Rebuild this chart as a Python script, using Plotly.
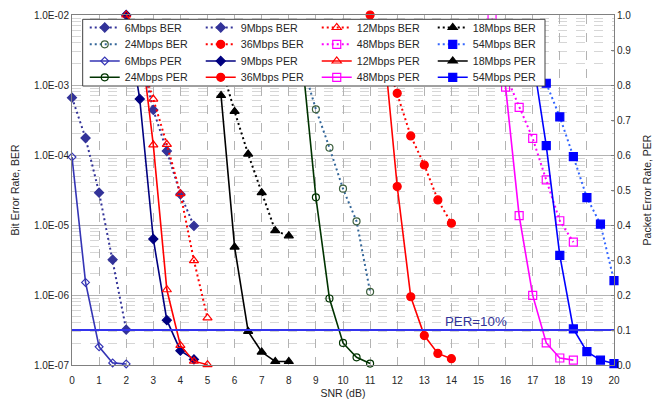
import plotly.graph_objects as go

# ---------------- data ----------------
snr6 = [0, 0.5, 1, 1.5, 2]
ber6 = [6.6e-4, 1.75e-4, 2.9e-5, 3.2e-6, 3.2e-7]
per6 = [0.594, 0.236, 0.052, 0.006, 0.003]

snr9_ber = [2.5, 3, 3.5, 4, 4.5]
ber9 = [3.0e-3, 4.4e-4, 1.14e-4, 2.75e-5, 9.7e-6]
snr9_per = [2, 2.5, 3, 3.5, 4, 4.5]
per9 = [1.0, 0.76, 0.36, 0.128, 0.041, 0.016]

snr12_ber = [2.5, 3, 3.5, 4, 4.5, 5]
ber12 = [2.5e-3, 6.3e-4, 1.42e-4, 2.8e-5, 3.1e-6, 4.7e-7]
snr12_per = [2, 2.5, 3, 3.5, 4, 4.5, 5]
per12 = [1.0, 0.95, 0.629, 0.215, 0.056, 0.011, 0.001]

snr18 = [5.5, 6, 6.5, 7, 7.5, 8]
ber18 = [1.9e-3, 4.2e-4, 1.03e-4, 2.9e-5, 8.3e-6, 7.0e-6]
per18 = [0.77, 0.337, 0.096, 0.037, 0.01, 0.01]

snr24 = [8.5, 9, 9.5, 10, 10.5, 11]
ber24 = [2.0e-3, 4.5e-4, 1.27e-4, 3.3e-5, 1.13e-5, 1.11e-6]
per24 = [0.87, 0.479, 0.19, 0.063, 0.022, 0.004]

snr36_ber = [11.5, 12, 12.5, 13, 13.5, 14]
ber36 = [3.0e-3, 7.6e-4, 1.87e-4, 7.2e-5, 2.28e-5, 1.06e-5]
snr36_per = [11, 11.5, 12, 12.5, 13, 13.5, 14]
per36 = [1.0, 0.92, 0.51, 0.195, 0.084, 0.033, 0.018]

snr48_ber = [16, 16.5, 17, 17.5, 18, 18.5]
ber48 = [1.4e-3, 4.8e-4, 1.73e-4, 4.4e-5, 1.15e-5, 5.7e-6]
snr48_per = [15.5, 16, 16.5, 17, 17.5, 18, 18.5]
per48 = [0.99, 0.794, 0.427, 0.199, 0.063, 0.02, 0.014]

snr54_ber = [17.5, 18, 18.5, 19, 19.5, 20]
ber54 = [1.06e-3, 3.5e-4, 9.5e-5, 2.46e-5, 1.03e-5, 1.6e-6]
snr54_per = [17, 17.5, 18, 18.5, 19, 19.5, 20]
per54 = [0.88, 0.627, 0.313, 0.103, 0.038, 0.014, 0.004]

per_limit = 0.1
snr_range = [0, 20]

ber_tickvals = [1e-7, 1e-6, 1e-5, 1e-4, 1e-3, 1e-2]
ber_ticktext = ["1.0E-07", "1.0E-06", "1.0E-05", "1.0E-04", "1.0E-03", "1.0E-02"]

# ---------------- figure ----------------
FONT = "Arial, Liberation Sans, sans-serif"
TXT = "#262626"
fig = go.Figure()

def ber_trace(name, x, y, color, symbol, legend, mcolor=None, size=8):
    mcolor = mcolor or color
    fig.add_trace(go.Scatter(
        x=x, y=y, name=name, mode="lines+markers", yaxis="y", legend=legend,
        line=dict(color=color, width=2, dash="2px,3px"),
        marker=dict(symbol=symbol, size=size, color=mcolor,
                    line=dict(color=mcolor, width=1.2)),
        cliponaxis=False))

def per_trace(name, x, y, color, symbol, legend, size=8, mcolor=None):
    mcolor = mcolor or color
    fig.add_trace(go.Scatter(
        x=x, y=y, name=name, mode="lines+markers", yaxis="y2", legend=legend,
        line=dict(color=color, width=1.6),
        marker=dict(symbol=symbol, size=size, color=mcolor,
                    line=dict(color=mcolor, width=1.2)),
        cliponaxis=False))

NAVY = "#333399"
ber_trace("6Mbps BER", snr6, ber6, NAVY, "diamond", "legend", size=7)
ber_trace("9Mbps BER", snr9_ber, ber9, NAVY, "diamond", "legend", size=7)
ber_trace("12Mbps BER", snr12_ber, ber12, "#FF0000", "triangle-up-open", "legend", size=8)
ber_trace("18Mbps BER", snr18, ber18, "#000000", "triangle-up", "legend", size=8)

ber_trace("24Mbps BER", snr24, ber24, "#336699", "circle-open", "legend2", mcolor="#3C5F3C", size=7)
ber_trace("36Mbps BER", snr36_ber, ber36, "#FF0000", "circle", "legend2", size=8)
ber_trace("48Mbps BER", snr48_ber, ber48, "#FF00FF", "square-open", "legend2", size=8)
ber_trace("54Mbps BER", snr54_ber, ber54, "#3366FF", "square", "legend2", mcolor="#0000FF", size=8)

per_trace("6Mbps PER", snr6, per6, "#3535B5", "diamond-open", "legend3", size=6)
per_trace("9Mbps PER", snr9_per, per9, "#000080", "diamond", "legend3", size=7)
per_trace("12Mbps PER", snr12_per, per12, "#FF0000", "triangle-up-open", "legend3", size=8)
per_trace("18Mbps PER", snr18, per18, "#000000", "triangle-up", "legend3", size=8)

per_trace("24Mbps PER", snr24, per24, "#003300", "circle-open", "legend4", size=7)
per_trace("36Mbps PER", snr36_per, per36, "#FF0000", "circle", "legend4", size=8)
per_trace("48Mbps PER", snr48_per, per48, "#FF00FF", "square-open", "legend4", size=8)
per_trace("54Mbps PER", snr54_per, per54, "#0000FF", "square", "legend4", size=8)

# PER = 10 % reference line
fig.add_trace(go.Scatter(
    x=snr_range, y=[per_limit, per_limit], mode="lines", yaxis="y2",
    showlegend=False, line=dict(color="#3333EE", width=2), hoverinfo="skip"))

fig.add_annotation(x=14.92, y=0.125, xref="x", yref="y2", text="PER=10%",
                   showarrow=False, font=dict(family=FONT, size=13.3, color="#333399"))

# legend frame (white box drawn over the data, like the original)
fig.add_shape(type="rect", xref="paper", yref="paper",
              x0=0.0197, x1=0.8727, y0=0.7971, y1=0.9877,
              fillcolor="white", line=dict(color="#404040", width=1), layer="above")

leg_common = dict(orientation="h", x=0.0235, xanchor="left", yanchor="top",
                  bgcolor="rgba(0,0,0,0)", borderwidth=0, itemwidth=30,
                  entrywidth=71, entrywidthmode="pixels", tracegroupgap=0,
                  font=dict(family=FONT, size=10.7, color=TXT))
row_y = [1.0057, 0.9577, 0.9100, 0.8634]

fig.update_layout(
    width=655, height=401,
    margin=dict(l=72, r=41, t=15, b=36, autoexpand=False),
    paper_bgcolor="white", plot_bgcolor="white",
    font=dict(family=FONT, size=10, color=TXT),
    legend=dict(leg_common, y=row_y[0]),
    legend2=dict(leg_common, y=row_y[1]),
    legend3=dict(leg_common, y=row_y[2]),
    legend4=dict(leg_common, y=row_y[3]),
    xaxis=dict(range=snr_range, dtick=1, tick0=0, showgrid=True,
               gridcolor="#B3B3B3", griddash="dash", gridwidth=1,
               showline=True, linecolor="#808080", linewidth=1, mirror=True,
               ticks="", zeroline=False, ticklabelstandoff=6,
               tickfont=dict(family=FONT, size=10, color=TXT),
               title=dict(text="SNR (dB)", standoff=4,
                          font=dict(family=FONT, size=10.5, color=TXT))),
    yaxis=dict(type="log", range=[-7, -2], tickmode="array",
               tickvals=ber_tickvals, ticktext=ber_ticktext,
               showgrid=True, gridcolor="#B3B3B3", gridwidth=1,
               minor=dict(showgrid=True, dtick="D1", griddash="dash",
                          gridcolor="#D6D6D6", gridwidth=1),
               showline=True, linecolor="#808080", linewidth=1,
               ticks="", zeroline=False,
               tickfont=dict(family=FONT, size=10, color=TXT),
               title=dict(text="Bit Error Rate, BER", standoff=12,
                          font=dict(family=FONT, size=10.5, color=TXT))),
    yaxis2=dict(overlaying="y", side="right", range=[0, 1], dtick=0.1, tick0=0,
                tickformat=".1f", showgrid=False, zeroline=False,
                showline=True, linecolor="#808080", linewidth=1,
                ticks="inside", ticklen=3, tickcolor="#808080",
                tickfont=dict(family=FONT, size=10, color=TXT),
                title=dict(text="Packet Error Rate, PER", standoff=13,
                           font=dict(family=FONT, size=10.5, color=TXT))),
)

fig.write_html("out.html")
